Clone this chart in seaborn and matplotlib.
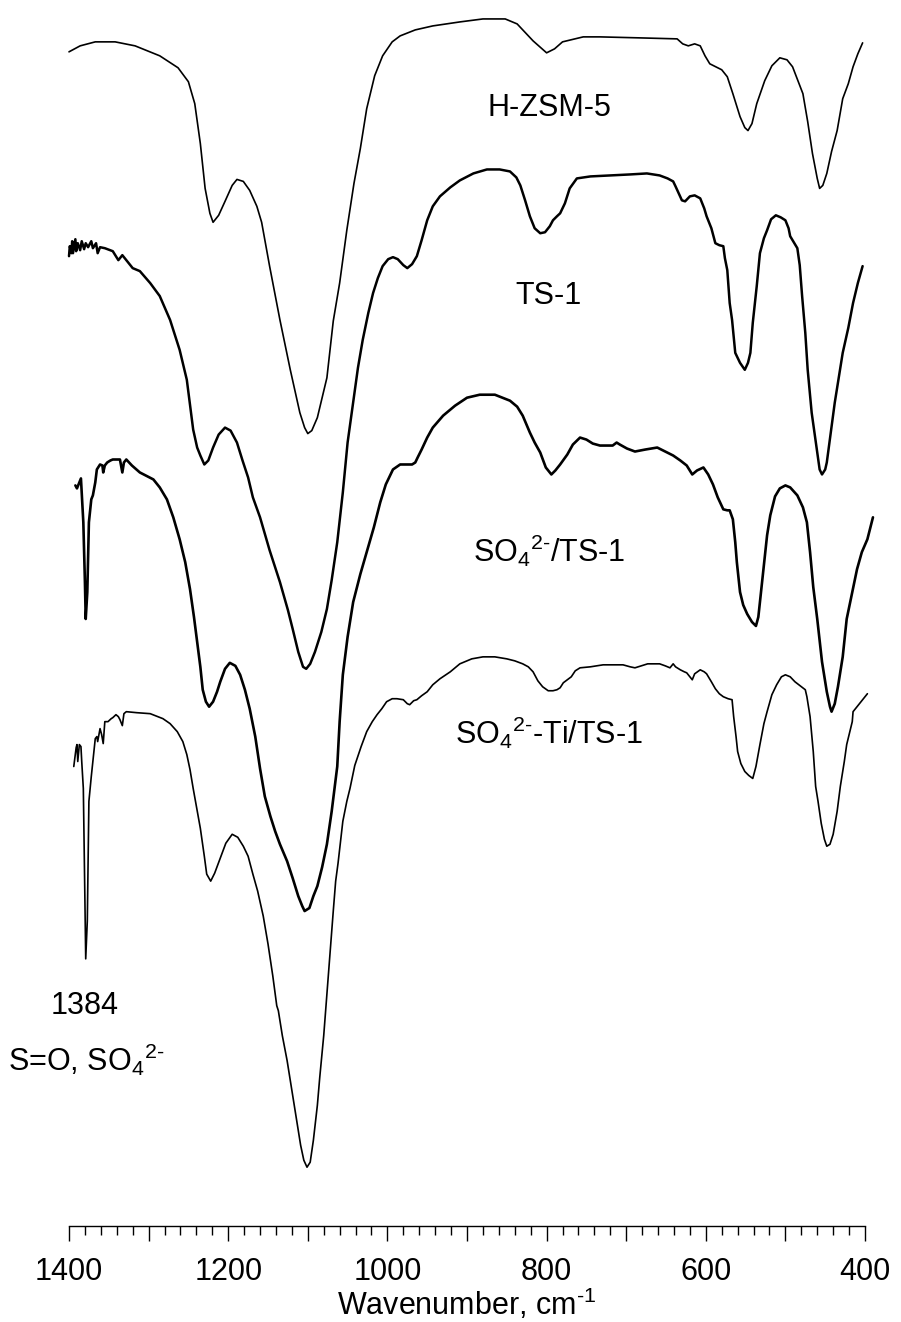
import matplotlib
matplotlib.use("Agg")
import matplotlib.pyplot as plt
import seaborn as sns
import pandas as pd
from matplotlib.ticker import MultipleLocator, FixedLocator

# --- FTIR spectra (stacked, arbitrary transmittance units) ---
hzsm5_wn = [1400, 1386, 1367, 1342, 1317, 1286, 1263, 1250, 1242, 1235, 1229, 1223, 1219, 1212,
            1204, 1195, 1189, 1181, 1173, 1164, 1158, 1148, 1135, 1122, 1110, 1104, 1100, 1095,
            1088, 1076, 1068, 1060, 1051, 1042, 1034, 1026, 1016, 1006, 994, 984, 965, 943, 909,
            880, 852, 837, 817, 800, 790, 780, 754, 733, 683, 636, 629, 622, 614, 607, 601, 595,
            585, 580, 573, 566, 557, 551, 547, 542, 536, 526, 517, 507, 498, 491, 478, 472, 466,
            460, 457, 453, 448, 442, 435, 428, 421, 415, 409, 403]
hzsm5_t = [118.2, 118.8, 119.2, 119.2, 118.8, 117.8, 116.6, 115.2, 113.0, 109.0, 104.5, 102.0,
           101.1, 101.8, 103.2, 104.8, 105.4, 105.2, 104.3, 102.7, 101.1, 96.7, 91.3, 86.3, 82.0,
           80.5, 79.9, 80.2, 81.5, 85.5, 91.2, 95.0, 100.3, 105.0, 108.5, 112.5, 115.8, 117.8,
           119.2, 119.8, 120.4, 120.8, 121.2, 121.5, 121.5, 121.0, 119.3, 118.1, 118.5, 119.2,
           119.7, 119.7, 119.6, 119.5, 119.0, 118.8, 119.0, 118.8, 117.8, 117.0, 116.6, 116.4,
           115.7, 114.0, 111.7, 110.6, 110.3, 111.0, 113.0, 115.3, 116.8, 117.6, 117.4, 116.7,
           114.0, 111.2, 108.0, 105.5, 104.5, 104.8, 106.0, 108.2, 110.3, 113.5, 115.0, 116.7,
           118.0, 119.1]

ts1_wn = [1400, 1399, 1397, 1396, 1395, 1392, 1391, 1389, 1386, 1384, 1381, 1379, 1376, 1372,
          1370, 1366, 1364, 1361, 1355, 1345, 1338, 1333, 1320, 1311, 1298, 1286, 1273, 1261,
          1252, 1244, 1239, 1235, 1230, 1225, 1219, 1212, 1204, 1197, 1189, 1182, 1175, 1169,
          1160, 1148, 1135, 1125, 1119, 1112, 1106, 1102, 1097, 1091, 1083, 1076, 1070, 1063,
          1056, 1050, 1043, 1037, 1031, 1024, 1018, 1012, 1006, 999, 993, 987, 980, 975, 969,
          963, 957, 950, 943, 934, 921, 909, 892, 875, 859, 846, 838, 833, 827, 821, 815, 808,
          802, 796, 792, 787, 783, 777, 771, 762, 745, 720, 695, 674, 658, 648, 641, 638, 634,
          630, 626, 620, 614, 607, 602, 599, 593, 588, 583, 578, 576, 573, 570, 567, 563, 557,
          551, 547, 544, 541, 536, 532, 527, 523, 518, 512, 506, 500, 496, 494, 485, 482, 479,
          475, 472, 467, 460, 457, 454, 450, 448, 443, 438, 433, 428, 421, 415, 409, 403]
ts1_t = [97.7, 98.7, 98.0, 99.2, 98.0, 99.4, 98.2, 99.0, 98.3, 99.2, 98.4, 99.0, 98.6, 99.2,
         98.5, 99.0, 98.0, 98.6, 98.5, 98.2, 97.3, 97.8, 96.5, 96.2, 95.0, 93.7, 91.3, 88.3, 85.3,
         80.3, 78.5, 77.7, 76.8, 77.2, 78.5, 79.8, 80.5, 80.2, 79.0, 77.2, 75.5, 73.5, 71.5, 68.2,
         65.0, 62.2, 60.3, 58.0, 56.5, 56.3, 56.8, 58.0, 60.0, 62.3, 65.2, 69.0, 74.0, 79.0, 83.0,
         86.5, 89.3, 92.0, 94.0, 95.5, 96.7, 97.4, 97.6, 97.4, 96.8, 96.5, 96.9, 97.7, 99.3,
         101.3, 102.7, 103.7, 104.6, 105.3, 106.0, 106.4, 106.4, 106.2, 105.6, 104.8, 103.3,
         101.7, 100.5, 100.0, 100.1, 100.7, 101.3, 101.7, 102.0, 103.0, 104.5, 105.5, 105.7,
         105.8, 105.9, 106.0, 105.8, 105.5, 105.2, 104.7, 104.0, 103.3, 103.2, 103.7, 103.8,
         103.5, 102.5, 101.7, 100.5, 99.0, 98.8, 98.7, 97.5, 96.3, 93.0, 91.3, 88.0, 87.0, 86.3,
         87.0, 88.0, 91.0, 94.7, 98.0, 99.5, 100.3, 101.4, 101.8, 101.6, 101.3, 100.5, 99.7,
         98.5, 96.8, 93.7, 90.0, 86.3, 82.0, 78.0, 76.3, 75.8, 76.3, 77.0, 80.0, 83.0, 85.5,
         88.0, 90.5, 93.0, 95.0, 96.7]

so4_ts1_wn = [1392, 1390, 1389, 1386, 1385, 1382, 1380, 1379, 1377, 1375, 1372, 1370, 1367, 1365,
              1361, 1358, 1357, 1355, 1352, 1348, 1345, 1340, 1336, 1333, 1331, 1328, 1321, 1311,
              1294, 1286, 1277, 1269, 1261, 1254, 1248, 1243, 1239, 1235, 1232, 1228, 1224, 1219,
              1214, 1210, 1204, 1198, 1191, 1185, 1179, 1173, 1166, 1160, 1154, 1147, 1141, 1135,
              1126, 1119, 1112, 1107, 1104, 1098, 1093, 1088, 1082, 1076, 1070, 1063, 1060, 1056,
              1050, 1043, 1034, 1026, 1017, 1009, 1002, 993, 984, 977, 969, 965, 962, 957, 950,
              943, 930, 915, 900, 884, 865, 846, 837, 830, 821, 815, 808, 801, 794, 789, 783, 774,
              767, 758, 750, 742, 733, 724, 717, 712, 708, 699, 689, 676, 661, 651, 641, 632, 624,
              617, 611, 603, 597, 591, 585, 578, 573, 570, 566, 563, 561, 557, 553, 548, 542, 537,
              534, 532, 528, 523, 519, 513, 507, 500, 494, 485, 478, 473, 469, 465, 460, 454, 448,
              444, 442, 438, 434, 428, 423, 416, 410, 404, 397, 390]
so4_ts1_t = [74.7, 74.4, 74.6, 75.2, 75.4, 71.0, 65.0, 61.3, 64.0, 71.0, 73.3, 73.7, 75.0, 76.3,
             76.8, 76.7, 76.0, 76.7, 77.0, 77.2, 77.3, 77.3, 77.3, 76.0, 77.0, 77.3, 76.7, 76.0,
             75.3, 74.5, 73.3, 71.5, 69.3, 67.0, 64.3, 61.5, 59.0, 56.5, 54.2, 53.0, 52.5, 53.0,
             54.0, 55.0, 56.3, 56.9, 56.6, 55.7, 54.2, 52.3, 49.5, 46.3, 43.5, 41.5, 40.0, 38.7,
             37.0, 35.3, 33.5, 32.5, 32.0, 32.3, 33.5, 34.5, 36.4, 38.7, 42.0, 46.5, 51.0, 55.7,
             59.5, 63.0, 65.8, 68.0, 70.5, 73.0, 74.8, 76.3, 76.8, 76.8, 76.8, 77.0, 77.5, 78.3,
             79.5, 80.5, 81.7, 82.7, 83.5, 83.8, 83.8, 83.2, 82.6, 81.7, 80.0, 79.0, 78.0, 76.5,
             75.8, 76.2, 76.8, 77.8, 78.8, 79.5, 79.3, 78.9, 78.7, 78.7, 78.7, 79.0, 78.8, 78.4,
             78.1, 78.3, 78.5, 78.1, 77.7, 77.2, 76.7, 75.8, 76.2, 76.5, 75.8, 74.8, 73.5, 72.3,
             72.2, 72.2, 71.3, 69.0, 67.0, 64.0, 62.7, 61.8, 61.0, 60.6, 61.5, 63.0, 66.0, 69.7,
             71.7, 73.6, 74.4, 74.7, 74.5, 73.7, 72.5, 71.0, 68.0, 64.5, 61.3, 57.0, 54.0, 52.5,
             52.0, 52.8, 54.5, 57.5, 61.3, 64.0, 66.3, 68.0, 69.3, 71.5]

so4_ti_ts1_wn = [1394, 1392, 1391, 1390, 1389, 1387, 1385, 1384, 1382, 1381, 1380, 1379, 1377,
                 1376, 1375, 1372, 1370, 1367, 1365, 1364, 1361, 1359, 1357, 1355, 1351, 1347,
                 1345, 1341, 1338, 1336, 1333, 1331, 1328, 1315, 1298, 1282, 1273, 1264, 1257,
                 1252, 1248, 1244, 1240, 1235, 1230, 1227, 1222, 1217, 1210, 1203, 1195, 1188,
                 1181, 1175, 1169, 1163, 1156, 1150, 1144, 1139, 1137, 1132, 1126, 1120, 1114,
                 1109, 1105, 1101, 1097, 1093, 1088, 1085, 1080, 1076, 1072, 1068, 1065, 1062,
                 1060, 1056, 1051, 1047, 1041, 1033, 1026, 1019, 1013, 1007, 1001, 994, 988, 980,
                 975, 972, 967, 963, 957, 950, 943, 934, 921, 909, 894, 880, 865, 850, 840, 830,
                 823, 817, 811, 805, 798, 792, 787, 783, 779, 774, 769, 764, 758, 745, 729, 714,
                 704, 695, 689, 681, 673, 665, 658, 651, 645, 641, 638, 632, 627, 624, 620, 617,
                 614, 607, 602, 599, 593, 588, 583, 578, 572, 567, 565, 562, 560, 556, 551, 546,
                 541, 537, 532, 527, 523, 517, 511, 505, 500, 494, 488, 480, 475, 473, 469, 465,
                 462, 459, 455, 451, 448, 444, 440, 435, 431, 426, 423, 419, 416, 415, 411, 406,
                 401, 397]
so4_ti_ts1_t = [46.5, 47.8, 48.4, 48.7, 47.0, 48.7, 48.5, 47.0, 44.3, 39.0, 33.0, 27.2, 31.0,
                37.0, 43.0, 45.5, 47.0, 49.3, 49.5, 49.0, 50.3, 49.7, 48.8, 51.0, 51.0, 51.3,
                51.4, 51.7, 51.5, 51.2, 50.6, 51.8, 52.0, 51.9, 51.8, 51.3, 50.8, 50.0, 49.0,
                47.7, 46.2, 44.3, 42.5, 40.3, 37.5, 35.7, 35.0, 35.8, 37.3, 38.8, 39.7, 39.4,
                38.5, 37.5, 35.7, 34.0, 31.5, 28.7, 25.5, 22.5, 22.0, 19.5, 17.0, 14.0, 11.0,
                8.5, 7.0, 6.3, 6.8, 9.0, 12.5, 15.3, 19.5, 23.7, 28.0, 32.0, 35.0, 36.8, 38.2,
                41.0, 43.0, 44.3, 46.6, 48.5, 50.0, 51.0, 51.7, 52.3, 53.0, 53.3, 53.3, 53.2,
                52.8, 52.7, 53.1, 53.2, 53.6, 54.0, 54.7, 55.3, 56.0, 56.8, 57.3, 57.5, 57.5,
                57.3, 57.1, 56.8, 56.5, 56.0, 55.1, 54.5, 54.1, 54.1, 54.2, 54.4, 54.9, 55.2,
                55.5, 56.1, 56.4, 56.5, 56.7, 56.7, 56.7, 56.5, 56.4, 56.6, 56.8, 56.8, 56.8,
                56.6, 56.4, 56.8, 56.5, 56.2, 56.0, 55.9, 55.5, 55.2, 55.8, 56.2, 56.0, 55.8,
                55.0, 54.3, 53.8, 53.5, 53.3, 53.2, 51.5, 49.5, 48.0, 46.8, 46.0, 45.6, 45.3,
                46.5, 48.7, 50.8, 52.0, 53.7, 54.7, 55.5, 55.7, 55.5, 55.0, 54.5, 54.2, 53.5,
                51.5, 48.0, 44.5, 43.0, 40.8, 39.2, 38.5, 38.7, 39.7, 42.0, 44.5, 47.0, 48.7,
                50.0, 51.0, 52.0, 52.4, 52.9, 53.4, 53.8]

# superscripts written with a plain hyphen (U+2010) like the original figure
charge = "$^{2\u2010}$"
sample_names = ["H-ZSM-5", "TS-1", "SO$_4$" + charge + "/TS-1", "SO$_4$" + charge + "-Ti/TS-1"]
label_baselines = [111.8, 92.9, 67.0, 48.8]
line_widths = [1.2, 1.8, 1.9, 1.2]
label_wn = 797

sns.set_style("white")
plt.rcParams["font.family"] = ["Liberation Sans", "DejaVu Sans"]
plt.rcParams["mathtext.fontset"] = "custom"
plt.rcParams["mathtext.rm"] = "Liberation Sans"
plt.rcParams["mathtext.it"] = "Liberation Sans:italic"
plt.rcParams["mathtext.bf"] = "Liberation Sans:bold"
plt.rcParams["text.color"] = "black"
plt.rcParams["axes.labelcolor"] = "black"
plt.rcParams["xtick.color"] = "black"

frames = []
for name, wn, t in zip(sample_names,
                       [hzsm5_wn, ts1_wn, so4_ts1_wn, so4_ti_ts1_wn],
                       [hzsm5_t, ts1_t, so4_ts1_t, so4_ti_ts1_t]):
    frames.append(pd.DataFrame({"wavenumber": wn, "T": t, "sample": name}))
df = pd.concat(frames, ignore_index=True)

fig = plt.figure(figsize=(9.01, 13.22), dpi=100)
ax = fig.add_axes([69 / 901, 96 / 1322, 796 / 901, 1226 / 1322])

for name, lw in zip(sample_names, line_widths):
    sub = df[df["sample"] == name]
    sns.lineplot(data=sub, x="wavenumber", y="T", sort=False, estimator=None,
                 color="black", linewidth=lw, ax=ax, clip_on=False,
                 solid_joinstyle="round", solid_capstyle="round")

for name, yb in zip(sample_names, label_baselines):
    ax.text(label_wn, yb, name, ha="center", va="baseline", fontsize=22, color="black")

ax.text(1380, 21.7, "1384", ha="center", va="baseline", fontsize=22, color="black")
ax.text(1379, 16.0, "S=O, SO$_4$" + charge, ha="center", va="baseline", fontsize=22,
        color="black", clip_on=False)

ax.set_xlim(1400, 400)
ax.set_ylim(0.4, 123.4)
ax.xaxis.set_major_locator(FixedLocator(list(range(400, 1401, 100))))
ax.set_xticklabels([str(v) if v % 200 == 0 else "" for v in range(400, 1401, 100)])
ax.xaxis.set_minor_locator(MultipleLocator(20))
ax.tick_params(axis="x", which="major", direction="out", length=11, width=1.0,
               labelsize=22, pad=11, bottom=True, colors="black")
ax.tick_params(axis="x", which="minor", direction="out", length=6.5, width=1.0,
               bottom=True, colors="black")
ax.set_yticks([])
for side in ["top", "right", "left"]:
    ax.spines[side].set_visible(False)
ax.spines["bottom"].set_linewidth(1.0)
ax.spines["bottom"].set_color("black")
ax.set_xlabel("Wavenumber, cm$^{\u20101}$", fontsize=22, labelpad=0)
ax.set_ylabel("")
if ax.get_legend() is not None:
    ax.get_legend().remove()

fig.savefig("out.png", dpi=100, facecolor="white")
